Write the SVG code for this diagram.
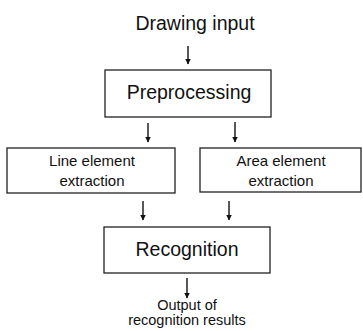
<svg xmlns="http://www.w3.org/2000/svg" width="363" height="331" viewBox="0 0 363 331">
<style>
text{font-family:"Liberation Sans",Arial,sans-serif;fill:#111;text-anchor:middle}
.box{fill:#fff;stroke:#222;stroke-width:1.3}
.c{stroke:#111;stroke-width:1.4;fill:none}
</style>
<defs>
<marker id="ah" markerWidth="6" markerHeight="7" refX="5.5" refY="3.5" orient="auto" markerUnits="userSpaceOnUse">
<path d="M0,0.5 L6,3.5 L0,6.5 Z" fill="#111"/>
</marker>
</defs>
<rect width="363" height="331" fill="#fff"/>
<g id="input"><text x="195" y="30" font-size="19.5">Drawing input</text></g>
<g id="preprocessing"><rect class="box" x="105" y="70" width="166" height="47"/><text x="189" y="99" font-size="19.5">Preprocessing</text></g>
<g id="line-extraction"><rect class="box" x="7" y="148" width="168" height="45"/><text x="92" y="166" font-size="15">Line element</text><text x="92" y="186" font-size="15">extraction</text></g>
<g id="area-extraction"><rect class="box" x="200" y="148" width="161" height="44"/><text x="281" y="166" font-size="15">Area element</text><text x="281" y="186" font-size="15">extraction</text></g>
<g id="recognition"><rect class="box" x="104" y="227" width="166" height="46"/><text x="187" y="256" font-size="19.5">Recognition</text></g>
<g id="output"><text x="187" y="310" font-size="14.5">Output of</text><text x="187" y="325" font-size="14.5">recognition results</text></g>
<g id="connectors">
<line class="c" x1="188" y1="46" x2="188" y2="64" marker-end="url(#ah)"/>
<line class="c" x1="148" y1="123" x2="148" y2="142" marker-end="url(#ah)"/>
<line class="c" x1="235" y1="122" x2="235" y2="142" marker-end="url(#ah)"/>
<line class="c" x1="143" y1="201" x2="143" y2="220" marker-end="url(#ah)"/>
<line class="c" x1="229" y1="201" x2="229" y2="220" marker-end="url(#ah)"/>
<line class="c" x1="187" y1="278" x2="187" y2="298" marker-end="url(#ah)"/>
</g>
</svg>
